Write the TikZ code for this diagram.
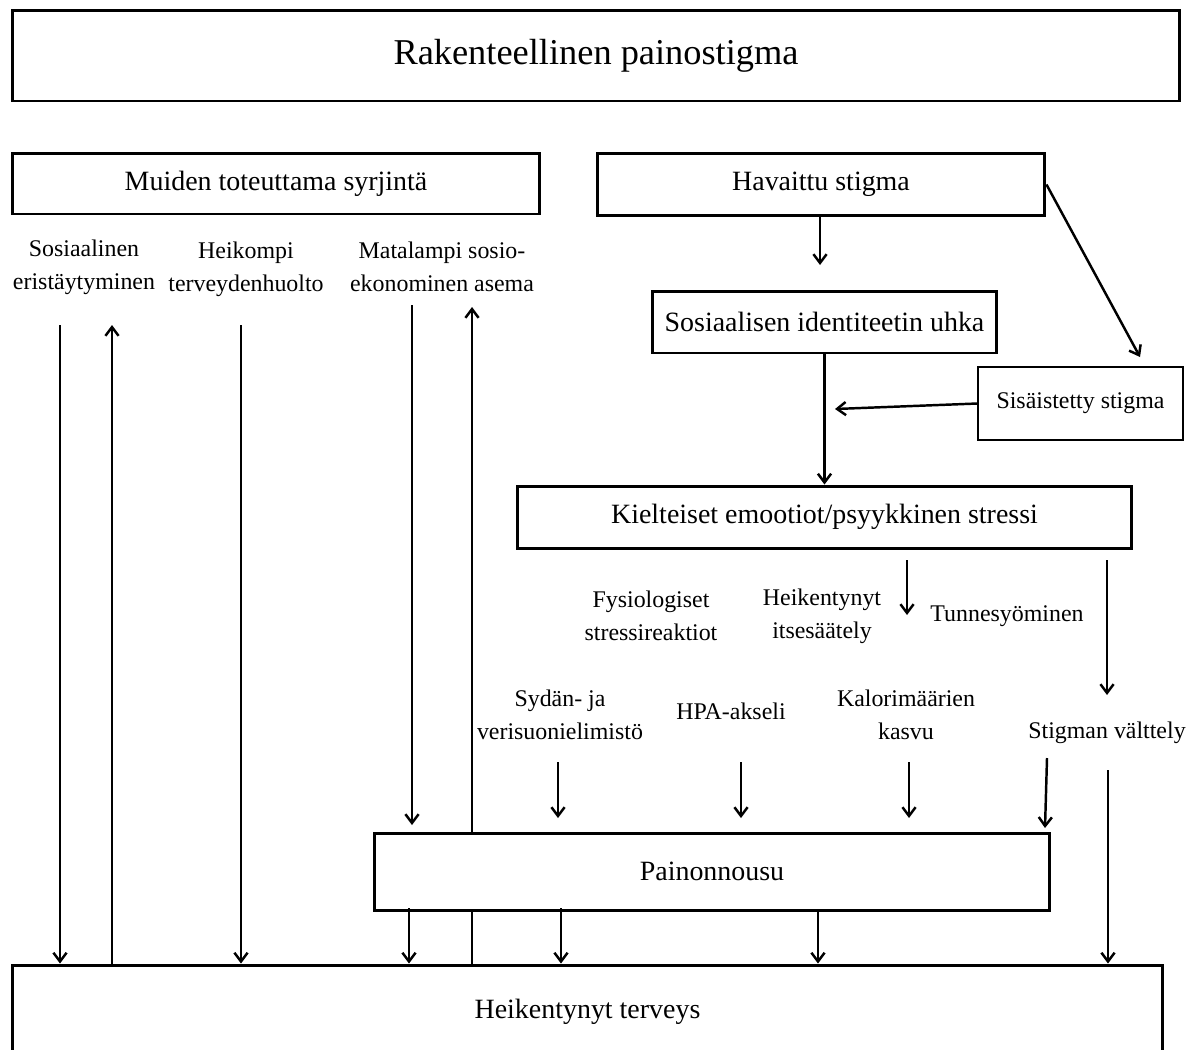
\documentclass[tikz,border=0pt]{standalone}
\usepackage{fontspec}
\setmainfont{Liberation Serif}
\usetikzlibrary{arrows.meta}
\begin{document}
\begin{tikzpicture}[x=0.02cm,y=-0.02cm,
 box/.style={draw, line width=1.7pt, inner sep=0pt, align=center, font=\fontsize{15.9}{19}\selectfont},
 thinbox/.style={draw, line width=0.8pt, inner sep=0pt, align=center, font=\fontsize{13.6}{19}\selectfont},
 lbl/.style={inner sep=0pt, align=center, font=\fontsize{13.6}{19}\selectfont},
 arr/.style={line width=1.4pt, -{Straight Barb[length=5pt,width=7.5pt]}},
 ln/.style={line width=1.4pt}]
\useasboundingbox (0,0) rectangle (1192,1049);
\clip (0,0) rectangle (1192,1049);
% boxes
\node[box, minimum width=23.36cm, minimum height=1.82cm, font=\fontsize{20.7}{24}\selectfont] (title) at (596,55.5) {Rakenteellinen painostigma};
\node[box, minimum width=10.56cm, minimum height=1.22cm] (muiden) at (276,183.5) {Muiden toteuttama syrjintä};
\node[box, minimum width=8.96cm, minimum height=1.24cm] (hav) at (821,184.5) {Havaittu stigma};
\node[box, minimum width=6.9cm, minimum height=1.24cm] (sosid) at (824.5,322) {Sosiaalisen identiteetin uhka};
\node[thinbox, minimum width=4.1cm, minimum height=1.46cm] (sisa) at (1080.5,403.5) {Sisäistetty stigma};
\node[box, minimum width=12.3cm, minimum height=1.24cm] (kiel) at (824.5,517) {Kielteiset emootiot/psyykkinen stressi};
\node[box, minimum width=13.52cm, minimum height=1.54cm] (paino) at (712,871.5) {Painonnousu};
\node[box, minimum width=23.02cm, text height=1.06cm, text depth=1.4cm, anchor=base] (heik) at (587.5,1018) {Heikentynyt terveys};
% labels
\node[lbl] (sos) at (84,267) {Sosiaalinen\\eristäytyminen};
\node[lbl] (hk) at (246,269) {Heikompi\\terveydenhuolto};
\node[lbl] (mat) at (442,267) {Matalampi sosio-\\ekonominen asema};
\node[lbl] (fys) at (651,616) {Fysiologiset\\stressireaktiot};
\node[lbl] (heis) at (822,616) {Heikentynyt\\itsesäätely};
\node[lbl] (tun) at (1007,616) {Tunnesyöminen};
\node[lbl] (syd) at (560,715) {Sydän- ja\\verisuonielimistö};
\node[lbl] (hpa) at (731,711) {HPA-akseli};
\node[lbl] (kal) at (906,715) {Kalorimäärien\\kasvu};
\node[lbl] (sti) at (1107,733) {Stigman välttely};
% coordinates
\coordinate (a1) at (820,265);
\coordinate (a2) at (1140,357);
\coordinate (a4) at (835,409);
\coordinate (a5s) at (907,560);
\coordinate (a5e) at (907,615);
\coordinate (a6s) at (1107,560);
\coordinate (a6e) at (1107,695);
\coordinate (c1s) at (558,762);
\coordinate (c1e) at (558,818);
\coordinate (c2s) at (741,762);
\coordinate (c2e) at (741,818);
\coordinate (c3s) at (909,762);
\coordinate (c3e) at (909,818);
\coordinate (c4s) at (1047,758);
\coordinate (c4e) at (1045,828);
\coordinate (b1) at (1108,770);
\coordinate (l1) at (60,325);
\coordinate (l2) at (112,325);
\coordinate (l3) at (241,325);
\coordinate (l4s) at (412,305);
\coordinate (l4e) at (412,825);
\coordinate (l5) at (472,307);
\coordinate (p1) at (409,908);
\coordinate (p2) at (561,908);
\coordinate (p3) at (818,910);
% connectors
\draw[arr] (hav.south -| a1) -- (a1);
\draw[arr] (hav.east) -- (a2);
\draw[arr] (sosid.south) -- (kiel.north);
\draw[arr] (sisa.west) -- (a4);
\draw[arr] (a5s) -- (a5e);
\draw[arr] (a6s) -- (a6e);
\draw[arr] (c1s) -- (c1e);
\draw[arr] (c2s) -- (c2e);
\draw[arr] (c3s) -- (c3e);
\draw[arr] (c4s) -- (c4e);
\draw[arr] (b1) -- (b1 |- heik.north);
\draw[arr] (l1) -- (l1 |- heik.north);
\draw[arr] (l2 |- heik.north) -- (l2);
\draw[arr] (l3) -- (l3 |- heik.north);
\draw[arr] (l4s) -- (l4e);
\draw[arr] (l5 |- paino.north) -- (l5);
\draw[ln] (l5 |- paino.south) -- (l5 |- heik.north);
\draw[arr] (p1) -- (p1 |- heik.north);
\draw[arr] (p2) -- (p2 |- heik.north);
\draw[arr] (p3) -- (p3 |- heik.north);
\end{tikzpicture}
\end{document}
